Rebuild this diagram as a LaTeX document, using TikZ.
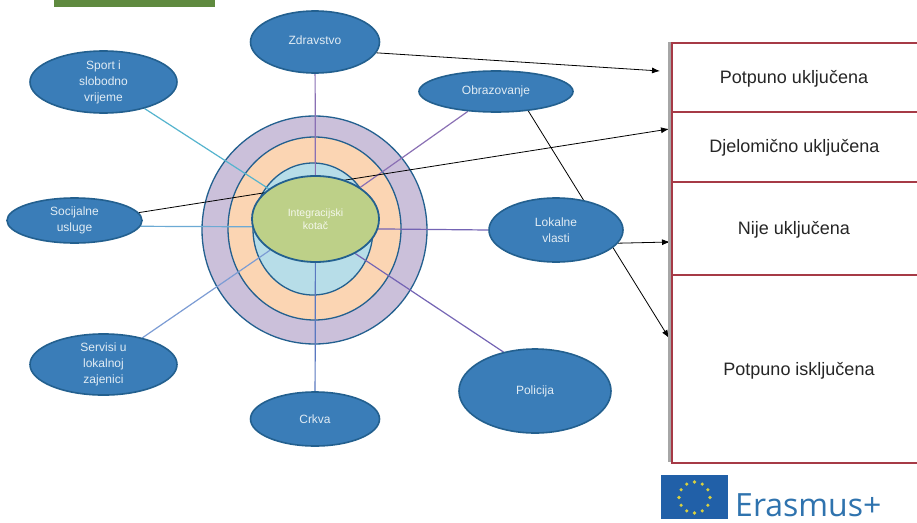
\documentclass[tikz,border=0pt]{standalone}
\usepackage{fontspec}
\setmainfont{Liberation Sans}
\newfontfamily\erasfont{Open Sans}
\usetikzlibrary{shapes.geometric,arrows.meta,calc}
\pgfdeclarelayer{rings}
\pgfdeclarelayer{lines}
\pgfsetlayers{rings,lines,main}
\definecolor{sat}{HTML}{3A7DB8}
\definecolor{edgeblue}{HTML}{23608F}
\definecolor{ringa}{HTML}{CBC0DA}
\definecolor{ringb}{HTML}{FBD5B3}
\definecolor{ringc}{HTML}{B7DDE8}
\definecolor{core}{HTML}{BDD088}
\definecolor{cellred}{HTML}{A63A46}
\definecolor{topgreen}{HTML}{5F8A3F}
\definecolor{flagblue}{HTML}{2160A8}
\definecolor{erasblue}{HTML}{2F73AE}
\definecolor{spteal}{HTML}{55B4CE}
\definecolor{sppurple}{HTML}{8A70B4}
\definecolor{spviolet}{HTML}{7464B4}
\definecolor{spblue}{HTML}{5A78C0}
\definecolor{splight}{HTML}{7C9CD4}
\definecolor{spsky}{HTML}{6CAAD4}
\definecolor{star}{HTML}{D8D040}
\tikzset{
  satnode/.style={ellipse,draw=edgeblue,line width=1.6pt,fill=sat,inner sep=0pt,align=center,
    text=white!85!sat,font=\fontsize{12}{16}\selectfont},
  ring/.style={ellipse,draw=edgeblue,line width=1.3pt,inner sep=0pt},
  cell/.style={rectangle,draw=cellred,line width=1.8pt,fill=white,inner sep=0pt,anchor=north west},
  celltext/.style={text=black!85,font=\fontsize{18}{21}\selectfont},
  arrowline/.style={draw=black,line width=.8pt,-{Latex[length=8pt,width=6pt]}},
  spoke/.style={line width=1.2pt},
  stardot/.style={circle,fill=star,inner sep=0pt,minimum size=3.6pt},
}
\begin{document}
\begin{tikzpicture}[x=1pt,y=-1pt]
\useasboundingbox (0,0) rectangle (917,522);
\begin{pgfonlayer}{rings}
\fill[white] (0,0) rectangle (917,522);
\end{pgfonlayer}
\fill[topgreen] (54,-2) rectangle (215,7);

% table
\draw[gray!70,line width=3pt] (669,42) -- (669,462);
\node[cell,minimum width=246pt,minimum height=69pt] (r1) at (671,42) {};
\node[cell,minimum width=246pt,minimum height=70pt] (r2) at (671,111) {};
\node[cell,minimum width=246pt,minimum height=93pt] (r3) at (671,181) {};
\node[cell,minimum width=246pt,minimum height=188pt] (r4) at (671,274) {};
\node[celltext] (t1) at (794,78.5) {Potpuno uključena};
\node[celltext] (t2) at (794.5,147.5) {Djelomično uključena};
\node[celltext] (t3) at (794,229.5) {Nije uključena};
\node[celltext] (t4) at (799,370.5) {Potpuno isključena};

% rings
\begin{pgfonlayer}{rings}
\node[ring,fill=ringa,minimum width=225pt,minimum height=228pt] (outer) at (314.5,230) {};
\node[ring,fill=ringb,minimum width=173pt,minimum height=183pt] (middle) at (314.5,228.5) {};
\node[ring,fill=ringc,minimum width=120pt,minimum height=132pt] (inner) at (313,229) {};
\end{pgfonlayer}

% core and satellites
\node[ellipse,draw=edgeblue,line width=1.8pt,fill=core,inner sep=0pt,minimum width=127pt,minimum height=86pt,
  align=center,text=white!85!core,font=\fontsize{10.5}{13.5}\selectfont] (core) at (315.5,219) {Integracijski\\kotač};
\node[satnode,minimum width=129pt,minimum height=62pt] (zdr) at (315,42) {\raisebox{3pt}{Zdravstvo}};
\node[satnode,minimum width=154pt,minimum height=41pt] (obr) at (496,91.5) {\raisebox{-1.5pt}{Obrazovanje}};
\node[satnode,minimum width=147pt,minimum height=62pt] (spo) at (103.5,82) {Sport i\\slobodno\\vrijeme};
\node[satnode,minimum width=135pt,minimum height=45pt] (soc) at (74.5,220.5) {Socijalne\\usluge};
\node[satnode,minimum width=134pt,minimum height=64pt] (lok) at (556,230) {Lokalne\\vlasti};
\node[satnode,minimum width=147pt,minimum height=57pt] (ser) at (103.5,364.5) {Servisi u\\lokalnoj\\zajenici};
\node[satnode,minimum width=129pt,minimum height=54pt] (crk) at (315,419) {Crkva};
\node[satnode,minimum width=152pt,minimum height=84pt] (pol) at (535,391) {Policija};

% free arrow ends
\coordinate (endzdr) at (660,71);
\coordinate (endsoc) at (669,129);
\coordinate (endlok) at (670,242);
\coordinate (endobr) at (669,338);

\begin{pgfonlayer}{lines}
\draw[spoke,draw=spteal] (spo) -- (core);
\draw[spoke,draw=sppurple] (zdr) -- (core);
\draw[spoke,draw=sppurple] (obr) -- (core);
\draw[spoke,draw=spsky] (soc.-5) -- (core.187);
\draw[spoke,draw=spviolet] (lok.west) -- (core.-9);
\draw[spoke,draw=splight] (ser) -- (core);
\draw[spoke,draw=spblue] (crk) -- (core);
\draw[spoke,draw=spviolet] (pol.129) -- (core.-41);
\draw[arrowline] (zdr.-10) -- (endzdr);
\draw[arrowline] (soc.7) -- (endsoc);
\draw[arrowline] (lok.-12) -- (endlok);
\draw[arrowline] (obr.-31) -- (endobr);
\end{pgfonlayer}

% Erasmus+ logo
\fill[flagblue] (661,475) rectangle (728,519);
\foreach \a in {0,30,...,330}
  \node[stardot] (st\a) at ($(694.5,497.5)+(\a:15.5pt)$) {};
\node[anchor=base west,text=erasblue,inner sep=0pt,font=\erasfont\fontsize{32}{32}\selectfont] (eras) at (735,516) {Erasmus+};
\end{tikzpicture}
\end{document}
